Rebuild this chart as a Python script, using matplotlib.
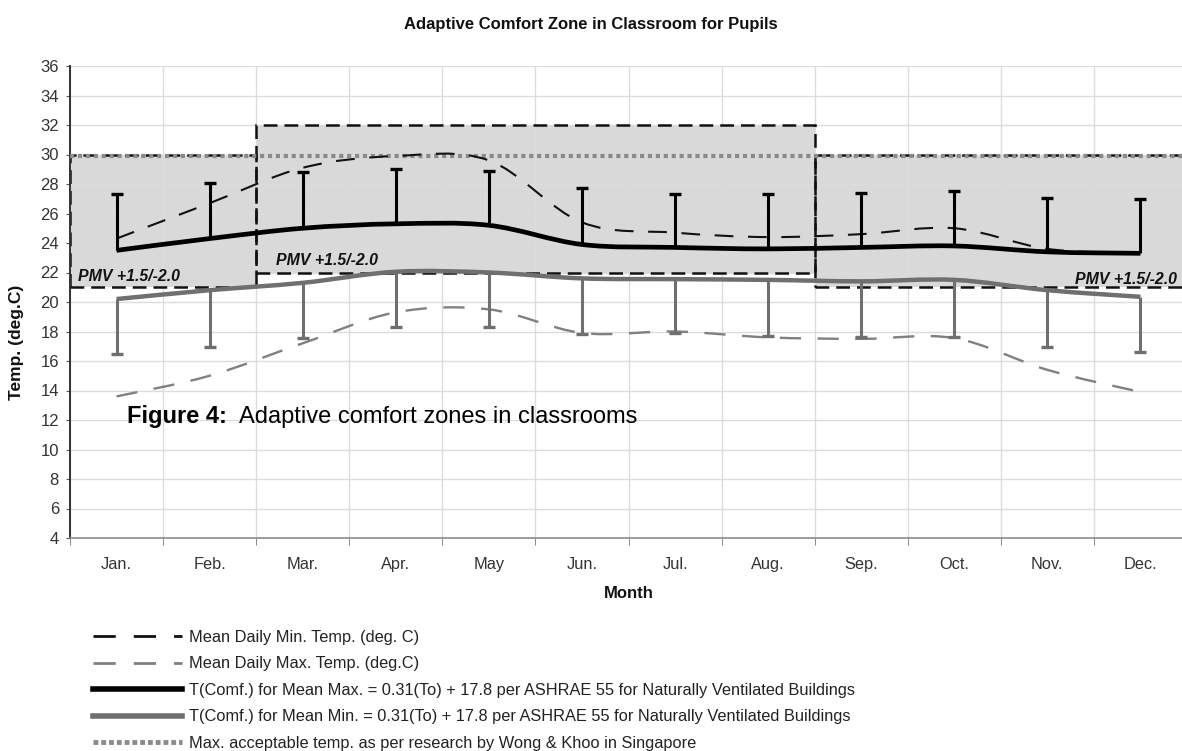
import numpy as np
import matplotlib.pyplot as plt
from matplotlib import font_manager
from matplotlib.path import Path
from matplotlib.patches import PathPatch, Rectangle
from matplotlib.lines import Line2D

plt.rcParams['font.family'] = ['Liberation Sans', 'DejaVu Sans']

# ── data ─────────────────────────────────────────────────────────────────────
months = ["Jan.", "Feb.", "Mar.", "Apr.", "May", "Jun.",
          "Jul.", "Aug.", "Sep.", "Oct.", "Nov.", "Dec."]

# upper dashed series (labelled "Min." in the source legend)
mean_daily_min = [24.3, 26.7, 29.1, 29.9, 29.6, 25.4, 24.7, 24.4, 24.6, 25.0, 23.6, 23.3]
# lower dashed series (labelled "Max." in the source legend)
mean_daily_max = [13.6, 15.0, 17.2, 19.3, 19.5, 17.9, 18.0, 17.6, 17.5, 17.55, 15.4, 13.9]

tcomf_max     = [23.5, 24.3, 25.0, 25.3, 25.2, 23.9, 23.7, 23.6, 23.7, 23.8, 23.4, 23.3]
tcomf_max_top = [27.3, 28.1, 28.8, 29.0, 28.9, 27.7, 27.3, 27.3, 27.4, 27.5, 27.05, 27.0]
tcomf_min     = [20.2, 20.8, 21.3, 22.05, 22.0, 21.6, 21.55, 21.5, 21.4, 21.5, 20.8, 20.35]
tcomf_min_bot = [16.45, 16.95, 17.55, 18.3, 18.3, 17.8, 17.9, 17.7, 17.6, 17.6, 16.95, 16.6]

max_acceptable = 29.9

# comfort zones: first/last month index, lower/upper temperature
zone_first = [0, 2, 8]
zone_last  = [1, 7, 11]
zone_low   = [21, 22, 21]
zone_high  = [30, 32, 30]
zone_label = "PMV +1.5/-2.0"

legend_labels = [
    "Mean Daily Min. Temp. (deg. C)",
    "Mean Daily Max. Temp. (deg.C)",
    "T(Comf.) for Mean Max. = 0.31(To) + 17.8 per ASHRAE 55 for Naturally Ventilated Buildings",
    "T(Comf.) for Mean Min. = 0.31(To) + 17.8 per ASHRAE 55 for Naturally Ventilated Buildings",
    "Max. acceptable temp. as per research by Wong & Khoo in Singapore",
]


# ── helpers ──────────────────────────────────────────────────────────────────
def smooth_path(xs, ys):
    """Excel-style smoothed line: Catmull-Rom segments as cubic Beziers."""
    p = np.column_stack([xs, ys]).astype(float)
    verts = [p[0]]
    codes = [Path.MOVETO]
    n = len(p)
    for i in range(n - 1):
        p0 = p[i - 1] if i > 0 else p[i]
        p3 = p[i + 2] if i + 2 < n else p[i + 1]
        c1 = p[i] + (p[i + 1] - p0) / 6.0
        c2 = p[i + 1] - (p3 - p[i]) / 6.0
        verts += [c1, c2, p[i + 1]]
        codes += [Path.CURVE4] * 3
    return Path(verts, codes)


def draw_smooth(ax, xs, ys, **kw):
    patch = PathPatch(smooth_path(xs, ys), fill=False, transform=ax.transData, **kw)
    ax.add_patch(patch)
    return patch


# ── figure ───────────────────────────────────────────────────────────────────
W, H = 1182, 751
fig = plt.figure(figsize=(W / 100, H / 100), dpi=100)
ax = fig.add_axes([70 / W, 1 - 538 / H, (1187 - 70) / W, (538 - 66) / H])

x = np.arange(len(months))
GRAY_LINE = "#6f6f6f"
GRAY_DASH = "#808080"
DOT = "#8a8a8a"
BLACK_DASH = (0, (9, 7))

# comfort zones
for f, l, lo, hi in zip(zone_first, zone_last, zone_low, zone_high):
    ax.add_patch(Rectangle((f - 0.5, lo), l - f + 1, hi - lo,
                           facecolor="#d9d9d9", edgecolor="none", zorder=0.3))
for k in (0, 2, 1):
    f, l, lo, hi = zone_first[k], zone_last[k], zone_low[k], zone_high[k]
    ax.add_patch(Rectangle((f - 0.5, lo), l - f + 1, hi - lo,
                           facecolor="none", edgecolor="#111111", lw=1.8,
                           linestyle=(0, (5.5, 2.8)), zorder=2))

# PMV labels
lab_kw = dict(fontsize=11.4, fontweight="bold", fontstyle="italic", color="#111111",
              textcoords="offset points", zorder=6)
ax.annotate(zone_label, (zone_first[0] - 0.5, zone_low[0]), xytext=(6, 2),
            ha="left", va="bottom", **lab_kw)
ax.annotate(zone_label, (zone_first[1] - 0.5, zone_low[1]), xytext=(14, 3),
            ha="left", va="bottom", **lab_kw)
ax.annotate(zone_label, (zone_last[2] + 0.5, zone_low[2]), xytext=(-7, 0),
            ha="right", va="bottom", **lab_kw)

# max acceptable temperature (dotted)
ax.axhline(max_acceptable, color=DOT, lw=3.0, linestyle=(0, (1, 0.9)),
           dash_capstyle="butt", zorder=3)

# dashed monthly means
draw_smooth(ax, x, mean_daily_min, edgecolor="#111111", lw=1.5,
            linestyle=BLACK_DASH, zorder=4)
draw_smooth(ax, x, mean_daily_max, edgecolor=GRAY_DASH, lw=1.7,
            linestyle=BLACK_DASH, zorder=4)

# comfort temperatures with one-sided bars
ax.vlines(x, tcomf_min_bot, tcomf_min, color=GRAY_LINE, lw=2.2, zorder=4)
ax.plot(x, tcomf_min_bot, ls="none", marker="_", ms=8.5, mew=2.4, color=GRAY_LINE, zorder=4)
draw_smooth(ax, x, tcomf_min, edgecolor=GRAY_LINE, lw=3.2, zorder=5)

ax.vlines(x, tcomf_max, tcomf_max_top, color="black", lw=2.2, zorder=4)
ax.plot(x, tcomf_max_top, ls="none", marker="_", ms=8.5, mew=2.4, color="black", zorder=4)
draw_smooth(ax, x, tcomf_max, edgecolor="black", lw=3.4, zorder=5)

# axes
ax.set_xlim(-0.5, len(months) - 0.5)
ax.set_ylim(4, 36)
ax.set_yticks(np.arange(4, 37, 2))
ax.set_xticks(x)
ax.set_xticklabels(months)
ax.set_xticks(np.arange(-0.5, len(months), 1), minor=True)
ax.tick_params(axis="x", which="major", length=0, pad=14, labelsize=11.8, labelcolor="#333333")
ax.tick_params(axis="x", which="minor", length=5, color="#777777", direction="out")
ax.tick_params(axis="y", length=3, color="#555555", labelsize=12, labelcolor="#333333", pad=5)
ax.set_axisbelow(True)
ax.grid(True, axis="y", which="major", color="#dcdcdc", lw=1.0)
ax.grid(True, axis="x", which="minor", color="#dcdcdc", lw=1.0)
for s in ("top", "right"):
    ax.spines[s].set_visible(False)
ax.spines["left"].set_color("#333333")
ax.spines["left"].set_linewidth(1.4)
ax.spines["bottom"].set_color("#8c8c8c")
ax.spines["bottom"].set_linewidth(1.2)

# titles
has_narrow = any("Narrow" in f.name for f in font_manager.fontManager.ttflist)
if has_narrow:
    fig.text(0.5, 1 - 24 / H, "Adaptive Comfort Zone in Classroom for Pupils",
             ha="center", va="center", fontsize=12, fontweight="bold", color="#111111",
             family=["Liberation Sans Narrow", "Liberation Sans"])
else:
    fig.text(0.5, 1 - 24 / H, "Adaptive Comfort Zone in Classroom for Pupils",
             ha="center", va="center", fontsize=10.5, fontweight="bold", color="#111111")
fig.text((70 + 1187) / 2 / W, 1 - 593 / H, "Month", ha="center", va="center",
         fontsize=12, fontweight="bold", color="#111111")
fig.text(17 / W, 1 - 342 / H, "Temp. (deg.C)", ha="center", va="center",
         rotation=90, fontsize=12.5, fontweight="bold", color="#111111")

# caption inside plot
cap = fig.text(127 / W, 1 - 423 / H, "Figure 4:", ha="left", va="baseline",
               fontsize=17, fontweight="bold", color="black")
ax.annotate("  Adaptive comfort zones in classrooms", xy=(1, 0), xycoords=cap,
            ha="left", va="bottom", fontsize=17, color="black", zorder=7)

# legend
handles = [
    Line2D([], [], color="#111111", lw=2.0, linestyle=(0, (8, 6.5))),
    Line2D([], [], color=GRAY_DASH, lw=2.0, linestyle=(0, (8, 6.5))),
    Line2D([], [], color="black", lw=4.0),
    Line2D([], [], color=GRAY_LINE, lw=4.0),
    Line2D([], [], color=DOT, lw=3.5, linestyle=(0, (1, 0.6)), dash_capstyle="butt"),
]
fig.legend(handles, legend_labels, loc="upper left", bbox_to_anchor=(93 / W, 1 - 630 / H),
           frameon=False, fontsize=11.8, handlelength=5.45, handletextpad=0.4,
           labelspacing=0.7, borderpad=0, borderaxespad=0, labelcolor="#222222")

fig.savefig("out.png", dpi=100)
